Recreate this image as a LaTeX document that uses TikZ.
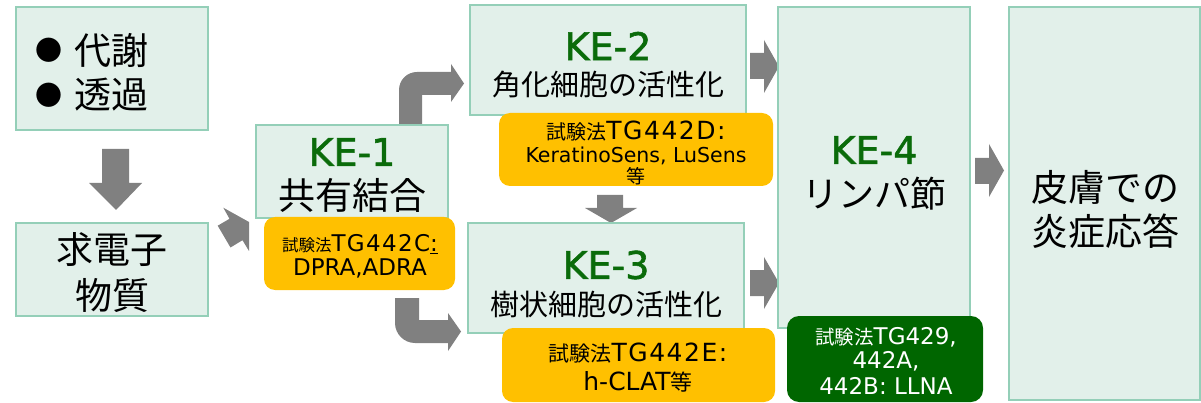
\documentclass[tikz,border=0pt]{standalone}
\usepackage{fontspec}
\setmainfont{Noto Sans CJK JP}
\newfontfamily\latf{DejaVu Sans}
\newfontfamily\latw[LetterSpace=6]{DejaVu Sans}
\newfontfamily\kef[FakeBold=1.6]{DejaVu Sans}
\definecolor{kefill}{HTML}{E2F0EA}
\definecolor{keborder}{HTML}{94CFB8}
\definecolor{testorange}{HTML}{FFC000}
\definecolor{testgreen}{HTML}{006600}
\definecolor{kegreen}{HTML}{0A6B0A}
\definecolor{arrowgray}{HTML}{808080}
\newcommand{\myfs}[1]{\fontsize{#1}{#1}\selectfont}
\begin{document}
\begin{tikzpicture}[x=1pt,y=-1pt,
  kebox/.style={draw=keborder, fill=kefill, line width=1.3pt, inner sep=0pt},
  testbox/.style={fill=testorange, rounded corners=11pt, inner sep=0pt},
  llnabox/.style={fill=testgreen, rounded corners=12pt, inner sep=0pt},
  blockarrow/.style={fill=arrowgray, draw=none},
  lbl/.style={inner sep=0pt, anchor=center},
  kelbl/.style={lbl, text=kegreen, font=\kef\myfs{38}},
  biglbl/.style={lbl, font=\myfs{37}},
  sublbl/.style={lbl, font=\myfs{29}}
]
\useasboundingbox (0,0) rectangle (1201,403);

% block arrows
\fill[blockarrow] (102,149) -- (129,149) -- (129,183) -- (142,183) -- (116,210) -- (89,183) -- (102,183) -- cycle;
\fill[blockarrow] (223.3,207.7) -- (249,222) -- (249,251) -- (242.5,240.2) -- (230.5,247.5) -- (217.7,225.7) -- (229.5,218.8) -- cycle;
\fill[blockarrow] (399,124) -- (399,90) .. controls (399,80) and (407,72) .. (417,72) -- (451,72) -- (451,64) -- (464,83.5) -- (451,102) -- (451,95) -- (422,95) -- (422,124) -- cycle;
\fill[blockarrow] (395,298) -- (419,298) -- (419,320) -- (448,320) -- (448,313) -- (461,331.5) -- (448,351) -- (448,343) -- (415,343) .. controls (404,343) and (395,334) .. (395,323) -- cycle;
\fill[blockarrow] (750,53) -- (764,53) -- (764,40) -- (779,66.5) -- (764,93) -- (764,79) -- (750,79) -- cycle;
\fill[blockarrow] (750,270) -- (764,270) -- (764,257) -- (779,283) -- (764,309) -- (764,296) -- (750,296) -- cycle;
\fill[blockarrow] (975,158) -- (989,158) -- (989,144) -- (1004,170.5) -- (989,197) -- (989,184) -- (975,184) -- cycle;
\fill[blockarrow] (597,195) -- (623,195) -- (623,208) -- (637,208) -- (611,223) -- (585,208) -- (597,208) -- cycle;

% boxes
\node[kebox, minimum width=192pt, minimum height=123pt] (boxA) at (112,68.5) {};
\node[kebox, minimum width=192pt, minimum height=93pt] (boxB) at (112,269.5) {};
\node[kebox, minimum width=192pt, minimum height=93pt] (ke1) at (352,171.5) {};
\node[kebox, minimum width=276pt, minimum height=110pt] (ke2) at (608,60) {};
\node[kebox, minimum width=276pt, minimum height=110pt] (ke3) at (606,278) {};
\node[kebox, minimum width=192pt, minimum height=321pt] (ke4) at (874,167.5) {};
\node[kebox, minimum width=191pt, minimum height=393pt] (resp) at (1104.5,203.5) {};

\node[testbox, minimum width=191pt, minimum height=73pt] (t442c) at (359.5,253.5) {};
\node[testbox, minimum width=274pt, minimum height=73pt] (t442d) at (636,149.5) {};
\node[testbox, minimum width=273pt, minimum height=74pt] (t442e) at (638.5,365) {};
\node[llnabox, minimum width=196pt, minimum height=86pt] (t429) at (885,359) {};

% texts
\node[lbl, font=\myfs{27}] (a1b) at (49,50) {●};
\node[lbl, font=\myfs{27}] (a2b) at (49,95) {●};
\node[lbl, anchor=west, font=\myfs{37}] (a1) at (74,50) {代謝};
\node[lbl, anchor=west, font=\myfs{37}] (a2) at (74,95) {透過};
\node[biglbl] (b1) at (112,250) {求電子};
\node[biglbl] (b2) at (112,295) {物質};

\node[kelbl] (ke1t) at (352,152) {KE-1};
\node[biglbl] (ke1s) at (352,195) {共有結合};
\node[kelbl] (ke2t) at (608,46) {KE-2};
\node[sublbl] (ke2s) at (608,85) {角化細胞の活性化};
\node[kelbl] (ke3t) at (606,265) {KE-3};
\node[sublbl] (ke3s) at (606,304) {樹状細胞の活性化};
\node[kelbl] (ke4t) at (874,150) {KE-4};
\node[lbl, font=\myfs{36}] (ke4s) at (874,194) {リンパ節};
\node[biglbl] (r1) at (1105,187) {皮膚での};
\node[biglbl] (r2) at (1105,231) {炎症応答};

\node[lbl] (c1) at (360,244) {{\myfs{16.5}試験法}{\latw\myfs{23}TG442C\underline{:}}};
\node[lbl] (c2) at (360,268) {\latf\myfs{23}DPRA,ADRA};

\node[lbl] (d1) at (636,131) {{\myfs{20}試験法}{\latw\myfs{25}TG442D:}};
\node[lbl] (d2) at (636,156) {\latf\myfs{20.5}KeratinoSens, LuSens};
\node[lbl] (d3) at (636,176) {\myfs{19}等};

\node[lbl] (e1) at (638,353) {{\myfs{21}試験法}{\latw\myfs{25}TG442E:}};
\node[lbl] (e2) at (638,382) {{\latf\myfs{25}h-CLAT}{\myfs{22}等}};

\node[lbl, text=white] (g1) at (886,337) {{\myfs{19.5}試験法}{\latf\myfs{23}TG429,}};
\node[lbl, text=white] (g2) at (886,361) {\latf\myfs{23}442A,};
\node[lbl, text=white] (g3) at (886,386) {\latf\myfs{23}442B: LLNA};
\end{tikzpicture}
\end{document}
